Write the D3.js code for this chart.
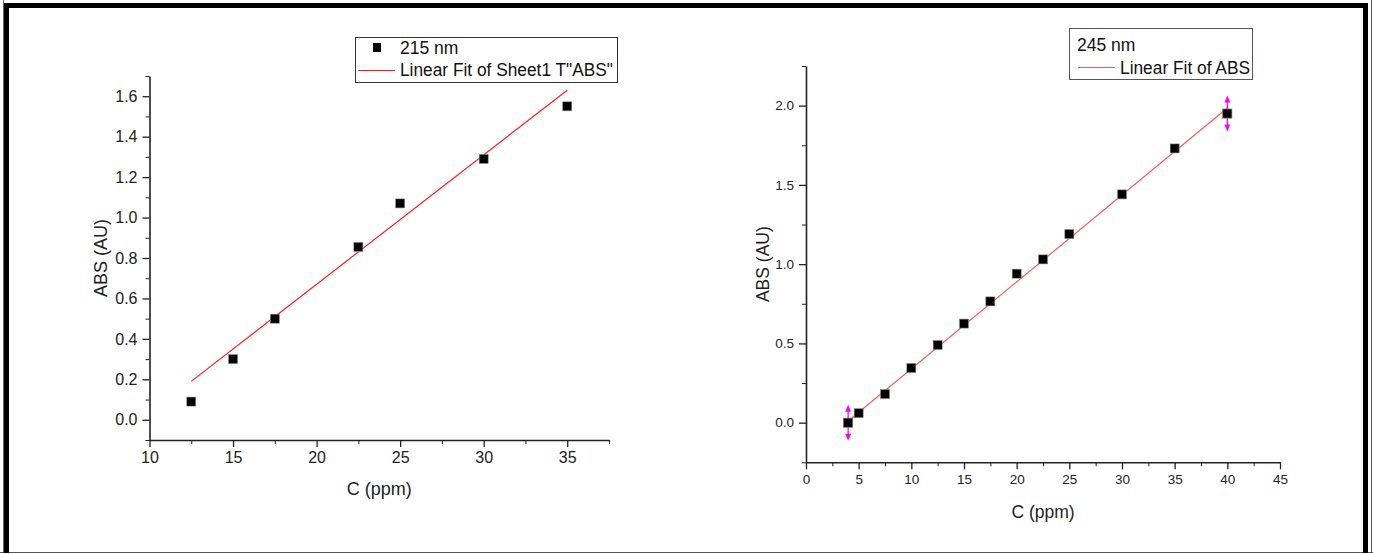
<!DOCTYPE html>
<html>
<head>
<meta charset="utf-8">
<script src="https://cdn.jsdelivr.net/npm/d3@7"></script>
<style>
  body { margin: 0; background: #fff; }
  svg { display: block; font-family: "Liberation Sans", Arial, sans-serif; }
  .axis path, .axis line { stroke: #222; }
  .axis text { fill: #222; }
</style>
</head>
<body>
<script>
// left panel: 215 nm
var concLeft = [12.5, 15, 17.5, 22.5, 25, 30, 35];
var absLeft = [0.09, 0.30, 0.50, 0.855, 1.07, 1.29, 1.55];
var fitLeftX = [12.5, 35];
var fitLeftY = [0.19, 1.63];
var leftXTicks = [10, 15, 20, 25, 30, 35];
var leftYTicks = [0.0, 0.2, 0.4, 0.6, 0.8, 1.0, 1.2, 1.4, 1.6];

// right panel: 245 nm
var concRight = [4, 5, 7.5, 10, 12.5, 15, 17.5, 20, 22.5, 25, 30, 35, 40];
var absRight = [0.0, 0.06, 0.18, 0.345, 0.49, 0.625, 0.765, 0.94, 1.03, 1.19, 1.44, 1.73, 1.95];
var fitRightX = [4, 40];
var fitRightY = [0.01, 1.985];
var rightXTicks = [0, 5, 10, 15, 20, 25, 30, 35, 40, 45];
var rightYTicks = [0.0, 0.5, 1.0, 1.5, 2.0];

var W = 1373, H = 554;

var svg = d3.select("body").append("svg")
    .attr("width", W)
    .attr("height", H);

// outer frame like the pasted figure
svg.append("line").attr("x1", 3.5).attr("x2", 3.5).attr("y1", 0).attr("y2", 553)
    .attr("stroke", "#666").attr("stroke-width", 1);
svg.append("line").attr("x1", 0).attr("x2", 1373).attr("y1", 552.5).attr("y2", 552.5)
    .attr("stroke", "#555").attr("stroke-width", 1);
svg.append("line").attr("x1", 1371.5).attr("x2", 1371.5).attr("y1", 0).attr("y2", 553)
    .attr("stroke", "#555").attr("stroke-width", 1);
svg.append("path")
    .attr("d", "M6.5,553 V5.5 H1365.5 V553")
    .attr("fill", "none")
    .attr("stroke", "#000")
    .attr("stroke-width", 5);

// helper: draw one panel
function drawPanel(opt) {
    var x = d3.scaleLinear().domain(opt.xDomain).range(opt.xRange);
    var y = d3.scaleLinear().domain(opt.yDomain).range(opt.yRange);
    var g = svg.append("g");

    // minor ticks first
    g.append("g")
        .attr("class", "axis")
        .attr("transform", "translate(0," + opt.yRange[0] + ")")
        .call(d3.axisBottom(x).tickValues(opt.xMinor).tickSize(4).tickSizeOuter(0).tickFormat(""))
        .call(function(s) { s.select(".domain").remove(); });
    g.append("g")
        .attr("class", "axis")
        .attr("transform", "translate(" + opt.xRange[0] + ",0)")
        .call(d3.axisLeft(y).tickValues(opt.yMinor).tickSize(4).tickSizeOuter(0).tickFormat(""))
        .call(function(s) { s.select(".domain").remove(); });

    // major ticks + labels
    var xa = g.append("g")
        .attr("class", "axis")
        .attr("transform", "translate(0," + opt.yRange[0] + ")")
        .call(d3.axisBottom(x).tickValues(opt.xTicks).tickSize(7).tickSizeOuter(0)
            .tickPadding(opt.tickPad).tickFormat(d3.format("d")));
    var ya = g.append("g")
        .attr("class", "axis")
        .attr("transform", "translate(" + opt.xRange[0] + ",0)")
        .call(d3.axisLeft(y).tickValues(opt.yTicks).tickSize(7).tickSizeOuter(0)
            .tickPadding(opt.tickPad).tickFormat(d3.format(".1f")));
    [xa, ya].forEach(function(a) {
        a.selectAll("text").attr("font-size", opt.tickFont).attr("font-family", null);
        a.selectAll("line").attr("stroke-width", 1.3);
        a.select(".domain").attr("stroke-width", 1.6);
    });

    // axis titles
    g.append("text")
        .attr("x", (opt.xRange[0] + opt.xRange[1]) / 2)
        .attr("y", opt.xTitleY)
        .attr("text-anchor", "middle")
        .attr("font-size", opt.titleFont)
        .attr("fill", "#222")
        .text("C (ppm)");
    g.append("text")
        .attr("transform", "translate(" + opt.yTitleX + "," + ((opt.yRange[0] + opt.yRange[1]) / 2) + ") rotate(-90)")
        .attr("text-anchor", "middle")
        .attr("font-size", opt.titleFont)
        .attr("fill", "#222")
        .text("ABS (AU)");

    // fit line
    g.append("line")
        .attr("x1", x(opt.fitX[0])).attr("y1", y(opt.fitY[0]))
        .attr("x2", x(opt.fitX[1])).attr("y2", y(opt.fitY[1]))
        .attr("stroke", opt.fitColor)
        .attr("stroke-width", 1.2);

    // square markers
    g.selectAll("rect.pt")
        .data(opt.xs)
        .enter().append("rect")
        .attr("class", "pt")
        .attr("x", function(d) { return x(d) - 4.5; })
        .attr("y", function(d, i) { return y(opt.ys[i]) - 4.5; })
        .attr("width", 9)
        .attr("height", 9)
        .attr("fill", "#000")
        .attr("stroke", "#888")
        .attr("stroke-width", 0.6);

    return {x: x, y: y, g: g};
}

var left = drawPanel({
    xDomain: [10, 37.5], xRange: [149.5, 609],
    yDomain: [-0.1, 1.7], yRange: [440, 76],
    xTicks: leftXTicks, yTicks: leftYTicks,
    xMinor: [12.5, 17.5, 22.5, 27.5, 32.5, 37.5],
    yMinor: [-0.1, 0.1, 0.3, 0.5, 0.7, 0.9, 1.1, 1.3, 1.5, 1.7],
    xs: concLeft, ys: absLeft,
    fitX: fitLeftX, fitY: fitLeftY, fitColor: "#ff1a1a",
    tickFont: 16, tickPad: 5, titleFont: 18,
    xTitleY: 495, yTitleX: 107
});

var right = drawPanel({
    xDomain: [0, 45], xRange: [806, 1280],
    yDomain: [-0.25, 2.25], yRange: [462.3, 66],
    xTicks: rightXTicks, yTicks: rightYTicks,
    xMinor: [2.5, 7.5, 12.5, 17.5, 22.5, 27.5, 32.5, 37.5, 42.5],
    yMinor: [-0.25, 0.25, 0.75, 1.25, 1.75, 2.25],
    xs: concRight, ys: absRight,
    fitX: fitRightX, fitY: fitRightY, fitColor: "#f45a5a",
    tickFont: 13.5, tickPad: 5, titleFont: 17.5,
    xTitleY: 518, yTitleX: 769
});

// magenta data-reader arrows on first and last points of the right panel
[0, concRight.length - 1].forEach(function(i) {
    var px = right.x(concRight[i]), py = right.y(absRight[i]);
    var a = right.g.append("g").attr("fill", "#ff00ff").attr("stroke", "#ff00ff");
    a.append("line").attr("x1", px).attr("x2", px).attr("y1", py - 14).attr("y2", py + 14)
        .attr("stroke-width", 1.3);
    a.append("path").attr("stroke", "none")
        .attr("d", "M" + px + "," + (py - 18) + " l-3,7 h6 Z");
    a.append("path").attr("stroke", "none")
        .attr("d", "M" + px + "," + (py + 18) + " l-3,-7 h6 Z");
    right.g.append("rect")
        .attr("x", px - 4.5).attr("y", py - 4.5).attr("width", 9).attr("height", 9)
        .attr("fill", "#000").attr("stroke", "#888").attr("stroke-width", 0.6);
});

// legends
var lg1 = svg.append("g");
lg1.append("rect").attr("x", 355.5).attr("y", 37.5).attr("width", 262).attr("height", 45)
    .attr("fill", "#fff").attr("stroke", "#333").attr("stroke-width", 1);
lg1.append("rect").attr("x", 373).attr("y", 43).attr("width", 8).attr("height", 9).attr("fill", "#000");
lg1.append("text").attr("x", 400).attr("y", 54).attr("font-size", 17.5).attr("fill", "#111").text("215 nm");
lg1.append("line").attr("x1", 358).attr("x2", 395).attr("y1", 70.5).attr("y2", 70.5)
    .attr("stroke", "#ff1a1a").attr("stroke-width", 1.2);
lg1.append("text").attr("x", 400).attr("y", 76).attr("font-size", 17.5).attr("fill", "#111")
    .attr("textLength", 213).attr("lengthAdjust", "spacingAndGlyphs")
    .text("Linear Fit of Sheet1 T\"ABS\"");

var lg2 = svg.append("g");
lg2.append("rect").attr("x", 1069.5).attr("y", 28.5).attr("width", 183).attr("height", 51)
    .attr("fill", "#fff").attr("stroke", "#555").attr("stroke-width", 1);
lg2.append("text").attr("x", 1077).attr("y", 51).attr("font-size", 17.5).attr("fill", "#111").text("245 nm");
lg2.append("line").attr("x1", 1078).attr("x2", 1115).attr("y1", 67.5).attr("y2", 67.5)
    .attr("stroke", "#f45a5a").attr("stroke-width", 1);
lg2.append("text").attr("x", 1120).attr("y", 74).attr("font-size", 17.5).attr("fill", "#111")
    .attr("textLength", 130).attr("lengthAdjust", "spacingAndGlyphs")
    .text("Linear Fit of ABS");
</script>
</body>
</html>
